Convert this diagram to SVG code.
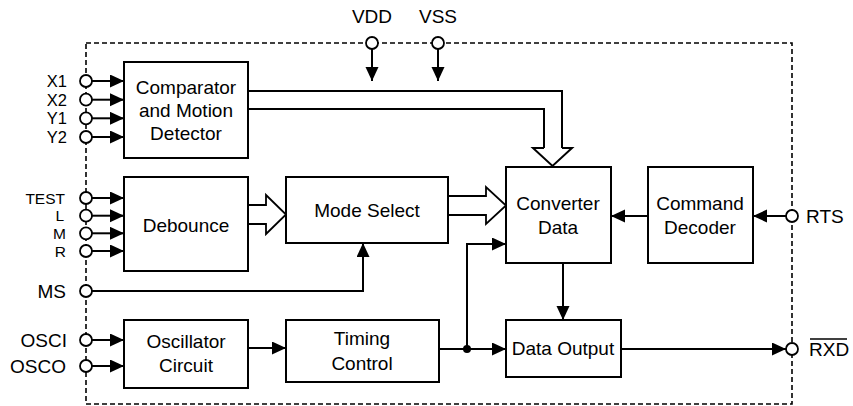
<svg xmlns="http://www.w3.org/2000/svg" width="853" height="406" viewBox="0 0 853 406">
<style>
.box{fill:#fff;stroke:#000;stroke-width:2}
.ln{fill:none;stroke:#000;stroke-width:2}
.hol{fill:#fff;stroke:#000;stroke-width:1.8}
.pin{fill:#fff;stroke:#000;stroke-width:1.8}
.t{font-family:"Liberation Sans",Arial,sans-serif;font-size:19px;fill:#000}
.s1{font-size:16.5px}
.s2{font-size:15.5px}
.c{text-anchor:middle}
.r{text-anchor:end}
.dash{fill:none;stroke:#000;stroke-width:1.6;stroke-dasharray:5,3}
</style>
<defs>
<marker id="ah" markerUnits="userSpaceOnUse" markerWidth="14" markerHeight="14" refX="14" refY="6.5" orient="auto">
<path d="M0,0 L14,6.5 L0,13 z" fill="#000"/>
</marker>
</defs>
<rect class="dash" x="86" y="43" width="706" height="361"/>
<g id="connectors">
<line class="ln" x1="92" y1="81" x2="124" y2="81" marker-end="url(#ah)"/>
<line class="ln" x1="92" y1="99.7" x2="124" y2="99.7" marker-end="url(#ah)"/>
<line class="ln" x1="92" y1="118.3" x2="124" y2="118.3" marker-end="url(#ah)"/>
<line class="ln" x1="92" y1="137" x2="124" y2="137" marker-end="url(#ah)"/>
<line class="ln" x1="92" y1="198" x2="124" y2="198" marker-end="url(#ah)"/>
<line class="ln" x1="92" y1="215.7" x2="124" y2="215.7" marker-end="url(#ah)"/>
<line class="ln" x1="92" y1="233.3" x2="124" y2="233.3" marker-end="url(#ah)"/>
<line class="ln" x1="92" y1="251" x2="124" y2="251" marker-end="url(#ah)"/>
<line class="ln" x1="92" y1="340" x2="124" y2="340" marker-end="url(#ah)"/>
<line class="ln" x1="92" y1="366" x2="124" y2="366" marker-end="url(#ah)"/>
<line class="ln" x1="372" y1="49" x2="372" y2="81" marker-end="url(#ah)"/>
<line class="ln" x1="438" y1="49" x2="438" y2="81" marker-end="url(#ah)"/>
<polyline class="ln" points="248,91 562,91 562,148"/>
<polyline class="ln" points="248,109 544,109 544,148"/>
<path class="ln" d="M544,148 H533 L552.5,166 L572,148 H562" stroke-width="1.8"/>
<path class="hol" d="M248,205 H266 V195 L286,214.5 L266,234 V224 H248"/>
<path class="hol" d="M448,196 H486 V187 L506,205.5 L486,224 V215 H448"/>
<polyline class="ln" points="92,291 363,291 363,243" marker-end="url(#ah)"/>
<line class="ln" x1="248" y1="348" x2="286" y2="348" marker-end="url(#ah)"/>
<line class="ln" x1="439" y1="349" x2="506" y2="349" marker-end="url(#ah)"/>
<polyline class="ln" points="467,349 467,244 506,244" marker-end="url(#ah)"/>
<circle cx="467" cy="349" r="4" fill="#000"/>
<line class="ln" x1="563" y1="263" x2="563" y2="320" marker-end="url(#ah)"/>
<line class="ln" x1="648" y1="216" x2="611" y2="216" marker-end="url(#ah)"/>
<line class="ln" x1="786" y1="216" x2="753" y2="216" marker-end="url(#ah)"/>
<line class="ln" x1="621" y1="349" x2="786" y2="349" marker-end="url(#ah)"/>
</g>
<g id="pins">
<circle class="pin" cx="86" cy="81" r="6"/>
<circle class="pin" cx="86" cy="99.7" r="6"/>
<circle class="pin" cx="86" cy="118.3" r="6"/>
<circle class="pin" cx="86" cy="137" r="6"/>
<circle class="pin" cx="86" cy="198" r="6"/>
<circle class="pin" cx="86" cy="215.7" r="6"/>
<circle class="pin" cx="86" cy="233.3" r="6"/>
<circle class="pin" cx="86" cy="251" r="6"/>
<circle class="pin" cx="86" cy="291" r="6"/>
<circle class="pin" cx="86" cy="340" r="6"/>
<circle class="pin" cx="86" cy="366" r="6"/>
<circle class="pin" cx="372" cy="43" r="6"/>
<circle class="pin" cx="438" cy="43" r="6"/>
<circle class="pin" cx="792" cy="216" r="6"/>
<circle class="pin" cx="792" cy="349" r="6"/>
<text class="t s1 r" x="67" y="87">X1</text>
<text class="t s1 r" x="67" y="105.7">X2</text>
<text class="t s1 r" x="67" y="124.3">Y1</text>
<text class="t s1 r" x="67" y="143">Y2</text>
<text class="t s2 r" x="65" y="203.5">TEST</text>
<text class="t s2 r" x="64" y="221.2">L</text>
<text class="t s2 r" x="66" y="238.8">M</text>
<text class="t s2 r" x="66" y="256.5">R</text>
<text class="t r" x="66" y="298">MS</text>
<text class="t r" x="67" y="347">OSCI</text>
<text class="t r" x="66" y="373">OSCO</text>
<text class="t c" x="372" y="23">VDD</text>
<text class="t c" x="438" y="23">VSS</text>
<text class="t" x="806" y="223">RTS</text>
<text class="t" x="809" y="356">RXD</text>
<line x1="810" y1="339" x2="847" y2="339" stroke="#000" stroke-width="1.5"/>
</g>
<g id="comparator">
<rect class="box" x="124" y="62" width="124" height="96"/>
<text class="t c" x="186" y="94">Comparator</text>
<text class="t c" x="186" y="117">and  Motion</text>
<text class="t c" x="186" y="140">Detector</text>
</g>
<g id="debounce">
<rect class="box" x="124" y="177" width="124" height="94"/>
<text class="t c" x="186" y="232">Debounce</text>
</g>
<g id="modeselect">
<rect class="box" x="286" y="177" width="162" height="66"/>
<text class="t c" x="367" y="217">Mode Select</text>
</g>
<g id="converter">
<rect class="box" x="506" y="167" width="105" height="96"/>
<text class="t c" x="558" y="210">Converter</text>
<text class="t c" x="558" y="234">Data</text>
</g>
<g id="command">
<rect class="box" x="648" y="167" width="105" height="96"/>
<text class="t c" x="700" y="210">Command</text>
<text class="t c" x="700" y="234">Decoder</text>
</g>
<g id="oscillator">
<rect class="box" x="124" y="320" width="124" height="68"/>
<text class="t c" x="186" y="348">Oscillator</text>
<text class="t c" x="186" y="372">Circuit</text>
</g>
<g id="timing">
<rect class="box" x="286" y="320" width="153" height="62"/>
<text class="t c" x="362" y="345">Timing</text>
<text class="t c" x="362" y="370">Control</text>
</g>
<g id="dataoutput">
<rect class="box" x="506" y="320" width="115" height="57"/>
<text class="t c" x="563" y="355">Data Output</text>
</g>
</svg>
